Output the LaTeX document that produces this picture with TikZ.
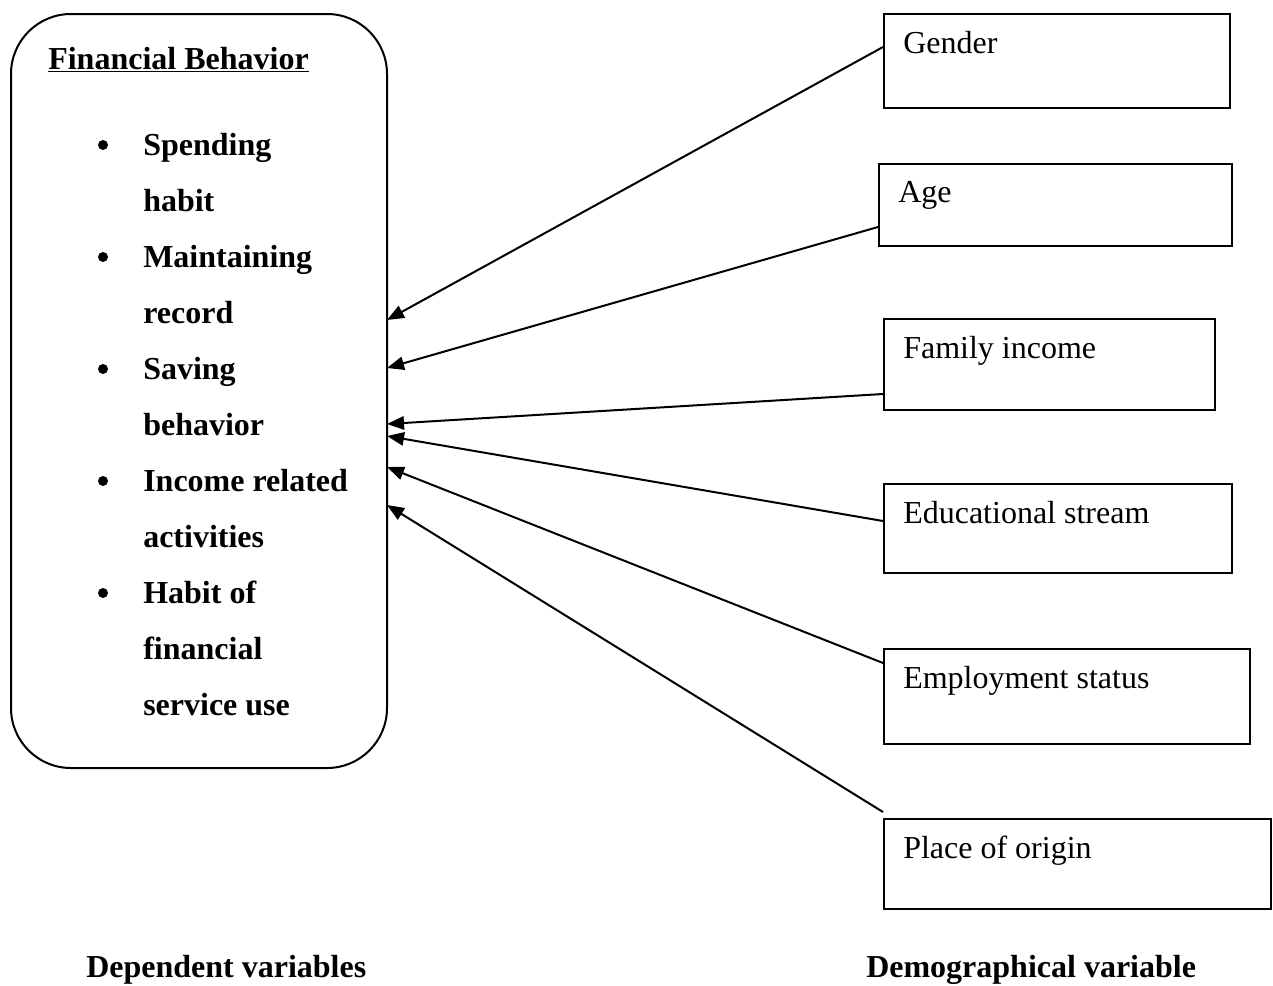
\documentclass[tikz,border=0pt]{standalone}
\usepackage{fontspec}
\setmainfont{Liberation Serif}
\usetikzlibrary{arrows.meta}
\begin{document}
\begin{tikzpicture}[x=0.75pt,y=-0.75pt,
  txt/.style={anchor=base west,inner sep=0pt,font=\fontsize{24}{28}\selectfont},
  btxt/.style={txt,font=\fontsize{24}{28}\selectfont\bfseries},
  vbox/.style={draw,line width=1.5pt,rectangle,anchor=north west,inner sep=0pt},
  arr/.style={line width=1.5pt,-{Triangle[length=12.75pt,width=10pt]}},
  dot/.style={circle,fill,inner sep=0pt,minimum size=7.5pt}]
\useasboundingbox (0,0) rectangle (1273,985);
% left rounded box
\node[draw,line width=1.5pt,rounded corners=45pt,anchor=north west,inner sep=0pt,
  minimum width={376*0.75pt},minimum height={754*0.75pt}] (fb) at (10,13) {};
\node[btxt] (fbt) at (48,69) {\underline{Financial Behavior}};
% bullets
\node[dot] (b1) at (103,145) {};
\node[dot] (b2) at (103,257) {};
\node[dot] (b3) at (103,369) {};
\node[dot] (b4) at (103,481) {};
\node[dot] (b5) at (103,593) {};
\node[btxt] (l1) at (143,155) {Spending};
\node[btxt] (l2) at (143,211) {habit};
\node[btxt] (l3) at (143,267) {Maintaining};
\node[btxt] (l4) at (143,323) {record};
\node[btxt] (l5) at (143,379) {Saving};
\node[btxt] (l6) at (143,435) {behavior};
\node[btxt] (l7) at (143,491) {Income related};
\node[btxt] (l8) at (143,547) {activities};
\node[btxt] (l9) at (143,603) {Habit of};
\node[btxt] (l10) at (143,659) {financial};
\node[btxt] (l11) at (143,715) {service use};
% right boxes
\node[vbox,minimum width={346*0.75pt},minimum height={94*0.75pt}] (gen) at (883,13) {};
\node[txt] (gent) at (903,53) {Gender};
\node[vbox,minimum width={353*0.75pt},minimum height={82*0.75pt}] (age) at (878,163) {};
\node[txt] (aget) at (898,202) {Age};
\node[vbox,minimum width={331*0.75pt},minimum height={91*0.75pt}] (fam) at (883,318) {};
\node[txt] (famt) at (903,358) {Family income};
\node[vbox,minimum width={348*0.75pt},minimum height={89*0.75pt}] (edu) at (883,483) {};
\node[txt] (edut) at (903,523) {Educational stream};
\node[vbox,minimum width={366*0.75pt},minimum height={95*0.75pt}] (emp) at (883,648) {};
\node[txt] (empt) at (903,688) {Employment status};
\node[vbox,minimum width={387*0.75pt},minimum height={90*0.75pt}] (pla) at (883,818) {};
\node[txt] (plat) at (903,858) {Place of origin};
% arrow ends
\coordinate (s1) at (883,47);
\coordinate (s2) at (878,227);
\coordinate (s3) at (883,394);
\coordinate (s4) at (883,521);
\coordinate (s5) at (883,663);
\coordinate (s6) at (883,812);
\coordinate (e1) at (387,320);
\coordinate (e2) at (387,368);
\coordinate (e3) at (387,424);
\coordinate (e4) at (387,436);
\coordinate (e5) at (387,467);
\coordinate (e6) at (387,505);
\draw[arr] (s1) -- (e1);
\draw[arr] (s2) -- (e2);
\draw[arr] (s3) -- (e3);
\draw[arr] (s4) -- (e4);
\draw[arr] (s5) -- (e5);
\draw[arr] (s6) -- (e6);
% bottom labels
\node[btxt] (dep) at (86,977) {Dependent variables};
\node[btxt] (dem) at (866,977) {Demographical variable};
\end{tikzpicture}
\end{document}
